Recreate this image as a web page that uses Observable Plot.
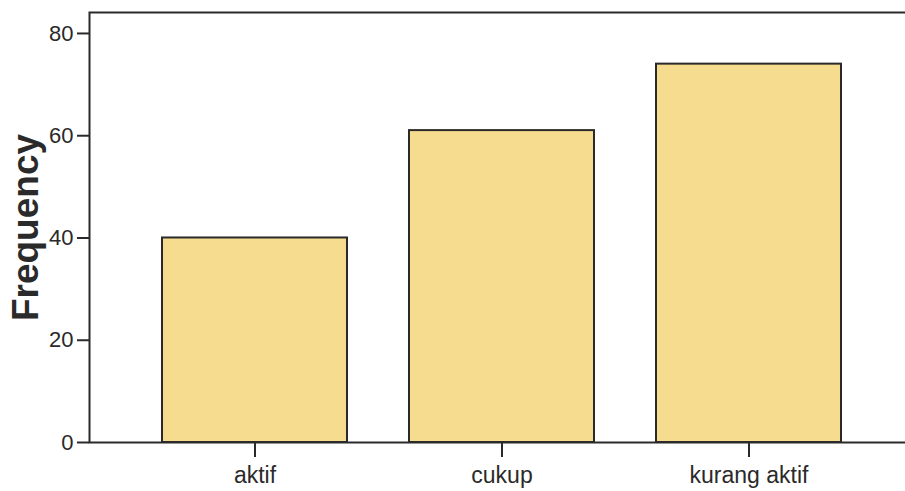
<!DOCTYPE html>
<html>
<head>
<meta charset="utf-8">
<script src="https://cdn.jsdelivr.net/npm/d3@7"></script>
<script src="https://cdn.jsdelivr.net/npm/@observablehq/plot@0.6"></script>
<style>
  html, body { margin: 0; padding: 0; background: #ffffff; }
  #chart svg { display: block; }
</style>
</head>
<body>
<div id="chart"></div>
<script>
// Activity level categories and their counts
const categories = ["aktif", "cukup", "kurang aktif"];
const frequencies = [40, 61, 74];
const yTicks = [0, 20, 40, 60, 80];
const yLabel = "Frequency";

const rows = categories.map((c, i) => ({category: c, frequency: frequencies[i]}));

const ink = "#2a2a2a";
const font = "'Liberation Sans', Arial, Helvetica, sans-serif";

const chart = Plot.plot({
  width: 905,
  height: 491,
  marginLeft: 89,
  marginRight: -9,
  marginTop: 12,
  marginBottom: 49,
  style: {fontFamily: font, background: "#ffffff", color: ink},
  x: {domain: categories, paddingInner: 0.251, paddingOuter: 0.2955, label: null},
  y: {domain: [0, 84.1], label: null},
  marks: [
    Plot.barY(rows, {x: "category", y: "frequency", fill: "#f6dc8f", stroke: ink, strokeWidth: 2}),
    Plot.frame({stroke: ink, strokeWidth: 2}),
    Plot.axisY({ticks: yTicks, tickSize: 12, tickPadding: 4, fontSize: 22, strokeWidth: 2, label: null}),
    Plot.axisX({tickSize: 15, tickPadding: 9, fontSize: 23, strokeWidth: 2, label: null}),
    Plot.text([yLabel], {text: d => d, frameAnchor: "left", textAnchor: "middle", rotate: -90, dx: -63, fontSize: 37, fontWeight: "bold", fill: ink})
  ]
});

document.getElementById("chart").appendChild(chart);
</script>
</body>
</html>
